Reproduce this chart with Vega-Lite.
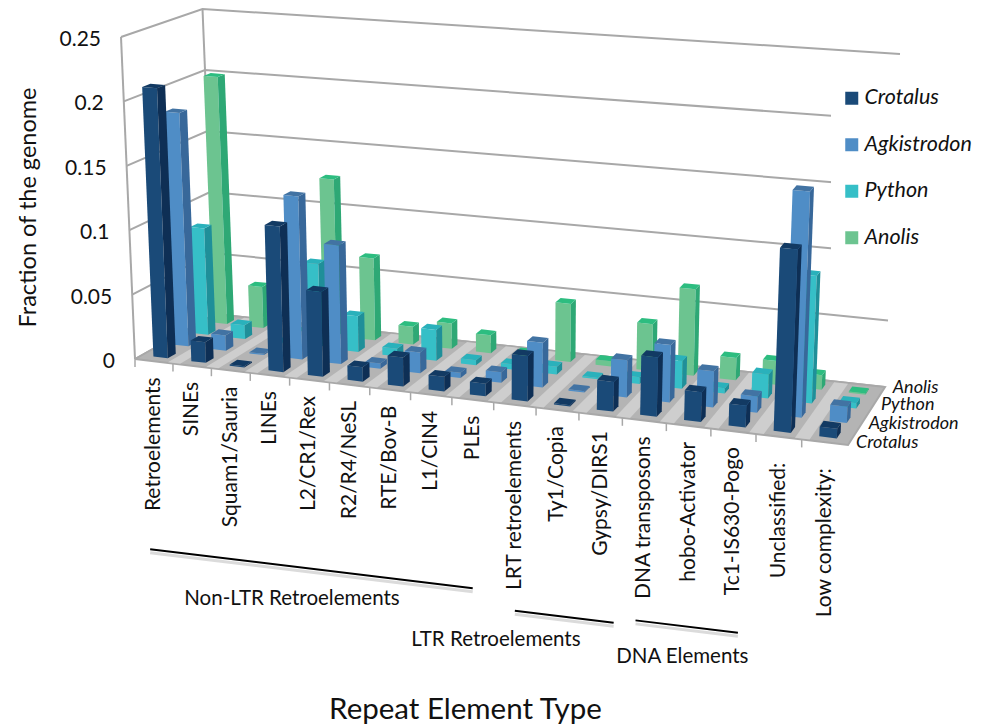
{
"$schema":"https://vega.github.io/schema/vega-lite/v6.json",
"width":994,"height":727,"padding":0,"autosize":{"type":"none"},"background":"white",
"config":{"view":{"stroke":null},"text":{"font":"Lato","color":"#111111"}},
"params":[
{"name":"cats","value":["Retroelements","SINEs","Squam1/Sauria","LINEs","L2/CR1/Rex","R2/R4/NeSL","RTE/Bov-B","L1/CIN4","PLEs","LRT retroelements","Ty1/Copia","Gypsy/DIRS1","DNA transposons","hobo-Activator","Tc1-IS630-Pogo","Unclassified:","Low complexity:"]},
{"name":"rows","value":["Crotalus","Agkistrodon","Python","Anolis"]}
],
"datasets":{
"bars":[
{"category":"Retroelements","series":"Anolis","value":0.2},{"category":"SINEs","series":"Anolis","value":0.033},{"category":"Squam1/Sauria","series":"Anolis","value":0.0002},{"category":"LINEs","series":"Anolis","value":0.125},{"category":"L2/CR1/Rex","series":"Anolis","value":0.065},{"category":"R2/R4/NeSL","series":"Anolis","value":0.014},{"category":"RTE/Bov-B","series":"Anolis","value":0.02},{"category":"L1/CIN4","series":"Anolis","value":0.014},{"category":"PLEs","series":"Anolis","value":0.003},{"category":"LRT retroelements","series":"Anolis","value":0.045},{"category":"Ty1/Copia","series":"Anolis","value":0.004},{"category":"Gypsy/DIRS1","series":"Anolis","value":0.036},{"category":"DNA transposons","series":"Anolis","value":0.066},{"category":"hobo-Activator","series":"Anolis","value":0.017},{"category":"Tc1-IS630-Pogo","series":"Anolis","value":0.018},{"category":"Unclassified:","series":"Anolis","value":0.011},{"category":"Low complexity:","series":"Anolis","value":0.001},
{"category":"Retroelements","series":"Python","value":0.085},{"category":"SINEs","series":"Python","value":0.011},{"category":"Squam1/Sauria","series":"Python","value":0.0005},{"category":"LINEs","series":"Python","value":0.066},{"category":"L2/CR1/Rex","series":"Python","value":0.028},{"category":"R2/R4/NeSL","series":"Python","value":0.006},{"category":"RTE/Bov-B","series":"Python","value":0.024},{"category":"L1/CIN4","series":"Python","value":0.004},{"category":"PLEs","series":"Python","value":0.004},{"category":"LRT retroelements","series":"Python","value":0.006},{"category":"Ty1/Copia","series":"Python","value":0.001},{"category":"Gypsy/DIRS1","series":"Python","value":0.005},{"category":"DNA transposons","series":"Python","value":0.021},{"category":"hobo-Activator","series":"Python","value":0.004},{"category":"Tc1-IS630-Pogo","series":"Python","value":0.018},{"category":"Unclassified:","series":"Python","value":0.095},{"category":"Low complexity:","series":"Python","value":0.004},
{"category":"Retroelements","series":"Agkistrodon","value":0.184},{"category":"SINEs","series":"Agkistrodon","value":0.012},{"category":"Squam1/Sauria","series":"Agkistrodon","value":0.001},{"category":"LINEs","series":"Agkistrodon","value":0.127},{"category":"L2/CR1/Rex","series":"Agkistrodon","value":0.092},{"category":"R2/R4/NeSL","series":"Agkistrodon","value":0.004},{"category":"RTE/Bov-B","series":"Agkistrodon","value":0.016},{"category":"L1/CIN4","series":"Agkistrodon","value":0.004},{"category":"PLEs","series":"Agkistrodon","value":0.008},{"category":"LRT retroelements","series":"Agkistrodon","value":0.034},{"category":"Ty1/Copia","series":"Agkistrodon","value":0.001},{"category":"Gypsy/DIRS1","series":"Agkistrodon","value":0.028},{"category":"DNA transposons","series":"Agkistrodon","value":0.043},{"category":"hobo-Activator","series":"Agkistrodon","value":0.027},{"category":"Tc1-IS630-Pogo","series":"Agkistrodon","value":0.012},{"category":"Unclassified:","series":"Agkistrodon","value":0.167},{"category":"Low complexity:","series":"Agkistrodon","value":0.012},
{"category":"Retroelements","series":"Crotalus","value":0.21},{"category":"SINEs","series":"Crotalus","value":0.016},{"category":"Squam1/Sauria","series":"Crotalus","value":0.001},{"category":"LINEs","series":"Crotalus","value":0.112},{"category":"L2/CR1/Rex","series":"Crotalus","value":0.065},{"category":"R2/R4/NeSL","series":"Crotalus","value":0.011},{"category":"RTE/Bov-B","series":"Crotalus","value":0.022},{"category":"L1/CIN4","series":"Crotalus","value":0.011},{"category":"PLEs","series":"Crotalus","value":0.0095},{"category":"LRT retroelements","series":"Crotalus","value":0.034},{"category":"Ty1/Copia","series":"Crotalus","value":0.001},{"category":"Gypsy/DIRS1","series":"Crotalus","value":0.022},{"category":"DNA transposons","series":"Crotalus","value":0.044},{"category":"hobo-Activator","series":"Crotalus","value":0.022},{"category":"Tc1-IS630-Pogo","series":"Crotalus","value":0.016},{"category":"Unclassified:","series":"Crotalus","value":0.134},{"category":"Low complexity:","series":"Crotalus","value":0.007}
],
"categories":[{"category":"Retroelements"},{"category":"SINEs"},{"category":"Squam1/Sauria"},{"category":"LINEs"},{"category":"L2/CR1/Rex"},{"category":"R2/R4/NeSL"},{"category":"RTE/Bov-B"},{"category":"L1/CIN4"},{"category":"PLEs"},{"category":"LRT retroelements"},{"category":"Ty1/Copia"},{"category":"Gypsy/DIRS1"},{"category":"DNA transposons"},{"category":"hobo-Activator"},{"category":"Tc1-IS630-Pogo"},{"category":"Unclassified:"},{"category":"Low complexity:"}],
"ticks":[{"tick":0},{"tick":0.05},{"tick":0.1},{"tick":0.15},{"tick":0.2},{"tick":0.25}],
"seriesNames":[{"series":"Crotalus"},{"series":"Agkistrodon"},{"series":"Python"},{"series":"Anolis"}],
"groups":[{"group":"Non-LTR Retroelements","from":0.4,"to":8.5},{"group":"LTR Retroelements","from":9.5,"to":11.8},{"group":"DNA Elements","from":12.3,"to":14.6}],
"floor":[{"part":"floor"}]
},
"encoding":{
"x":{"field":"sx","type":"quantitative","scale":{"domain":[0,994],"range":[0,994],"nice":false,"zero":false},"axis":{"title":"Repeat Element Type","titleFont":"Lato","titleFontSize":29.5,"titleFontWeight":"normal","titleColor":"#111111","titleX":465,"titleY":-32,"titleAlign":"center","domain":false,"ticks":false,"labels":false,"grid":false}},
"y":{"field":"sy","type":"quantitative","scale":{"domain":[0,727],"range":[0,727],"nice":false,"zero":false},"axis":{"title":"Fraction of the genome","titleFont":"Lato","titleFontSize":23.5,"titleFontWeight":"normal","titleColor":"#111111","titleX":40,"titleY":207,"titleAlign":"center","domain":false,"ticks":false,"labels":false,"grid":false}}
},
"layer":[
{"data":{"name":"ticks"},
"transform":[
{"calculate":"[{o:0,u:0,v:0},{o:1,u:0,v:4},{o:2,u:17,v:4}]","as":"vs"},{"flatten":["vs"],"as":["p"]},
{"calculate":"datum.p.u","as":"u"},{"calculate":"datum.p.v","as":"v"},{"calculate":"datum.tick","as":"h"},{"calculate":"datum.p.o","as":"o"},
{"calculate":"0.9*datum.u/(0.9*datum.u+17-datum.u)","as":"tt"},{"calculate":"1.1*datum.v/(1.1*datum.v+4-datum.v)","as":"ss"},
{"calculate":"(1-datum.ss)*((1-datum.tt)*135+datum.tt*848)+datum.ss*((1-datum.tt)*215+datum.tt*885)+datum.h*((1-datum.ss)*((1-datum.tt)*-56+datum.tt*60)+datum.ss*((1-datum.tt)*-50+datum.tt*60))","as":"sx"},
{"calculate":"(1-datum.ss)*((1-datum.tt)*359+datum.tt*445)+datum.ss*((1-datum.tt)*314+datum.tt*387)-datum.h*((1-datum.ss)*((1-datum.tt)*1288+datum.tt*1380)+datum.ss*((1-datum.tt)*1220+datum.tt*1332))","as":"sy"}
],
"mark":{"type":"line","stroke":"#a8a8a8","strokeWidth":2},
"encoding":{"detail":{"field":"tick"},"order":{"field":"o"}}},
{"data":{"values":[{"edge":"front-left","v":0},{"edge":"back-left","v":4}]},
"transform":[
{"calculate":"[{o:0,h:0},{o:1,h:0.25}]","as":"vs"},{"flatten":["vs"],"as":["p"]},
{"calculate":"0","as":"u"},{"calculate":"datum.p.h","as":"h"},{"calculate":"datum.p.o","as":"o"},
{"calculate":"0.9*datum.u/(0.9*datum.u+17-datum.u)","as":"tt"},{"calculate":"1.1*datum.v/(1.1*datum.v+4-datum.v)","as":"ss"},
{"calculate":"(1-datum.ss)*((1-datum.tt)*135+datum.tt*848)+datum.ss*((1-datum.tt)*215+datum.tt*885)+datum.h*((1-datum.ss)*((1-datum.tt)*-56+datum.tt*60)+datum.ss*((1-datum.tt)*-50+datum.tt*60))","as":"sx"},
{"calculate":"(1-datum.ss)*((1-datum.tt)*359+datum.tt*445)+datum.ss*((1-datum.tt)*314+datum.tt*387)-datum.h*((1-datum.ss)*((1-datum.tt)*1288+datum.tt*1380)+datum.ss*((1-datum.tt)*1220+datum.tt*1332))","as":"sy"}
],
"mark":{"type":"line","stroke":"#a8a8a8","strokeWidth":2},
"encoding":{"detail":{"field":"edge"},"order":{"field":"o"}}},
{"data":{"name":"floor"},
"transform":[
{"calculate":"[{o:0,u:0,v:0},{o:1,u:17,v:0},{o:2,u:17,v:4},{o:3,u:0,v:4},{o:4,u:0,v:0}]","as":"vs"},{"flatten":["vs"],"as":["p"]},
{"calculate":"datum.p.u","as":"u"},{"calculate":"datum.p.v","as":"v"},{"calculate":"0","as":"h"},{"calculate":"datum.p.o","as":"o"},
{"calculate":"0.9*datum.u/(0.9*datum.u+17-datum.u)","as":"tt"},{"calculate":"1.1*datum.v/(1.1*datum.v+4-datum.v)","as":"ss"},
{"calculate":"(1-datum.ss)*((1-datum.tt)*135+datum.tt*848)+datum.ss*((1-datum.tt)*215+datum.tt*885)","as":"sx"},
{"calculate":"(1-datum.ss)*((1-datum.tt)*359+datum.tt*445)+datum.ss*((1-datum.tt)*314+datum.tt*387)","as":"sy"}
],
"mark":{"type":"line","stroke":"#a8a8a8","strokeWidth":2,"fill":"#b4b4b4"},
"encoding":{"order":{"field":"o"}}},
{"data":{"name":"categories"},
"transform":[
{"calculate":"indexof(cats,datum.category)","as":"i"},
{"calculate":"[{o:0,a:-0.16,v:0.05},{o:1,a:0.16,v:0.05},{o:2,a:0.16,v:3.95},{o:3,a:-0.16,v:3.95}]","as":"vs"},{"flatten":["vs"],"as":["p"]},
{"calculate":"datum.i+1+datum.p.a","as":"u"},{"calculate":"datum.p.v","as":"v"},{"calculate":"datum.p.o","as":"o"},
{"filter":"datum.i<16"},
{"calculate":"0.9*datum.u/(0.9*datum.u+17-datum.u)","as":"tt"},{"calculate":"1.1*datum.v/(1.1*datum.v+4-datum.v)","as":"ss"},
{"calculate":"(1-datum.ss)*((1-datum.tt)*135+datum.tt*848)+datum.ss*((1-datum.tt)*215+datum.tt*885)","as":"sx"},
{"calculate":"(1-datum.ss)*((1-datum.tt)*359+datum.tt*445)+datum.ss*((1-datum.tt)*314+datum.tt*387)","as":"sy"}
],
"mark":{"type":"line","strokeWidth":0,"fill":"#d4d4d4","fillOpacity":0.8},
"encoding":{"detail":{"field":"category"},"order":{"field":"o"}}},
{"data":{"name":"categories"},
"transform":[
{"calculate":"indexof(cats,datum.category)","as":"u"},{"calculate":"0.9*datum.u/(0.9*datum.u+17-datum.u)","as":"tt"},
{"calculate":"(1-datum.tt)*135+datum.tt*848","as":"sx"},{"calculate":"(1-datum.tt)*359+datum.tt*445","as":"sy"},{"calculate":"datum.sy+8","as":"sy2"}
],
"mark":{"type":"rule","stroke":"#a8a8a8","strokeWidth":1.5},
"encoding":{"y2":{"field":"sy2"}}},
{"data":{"name":"bars"},
"transform":[
{"calculate":"indexof(cats,datum.category)","as":"i"},{"calculate":"indexof(rows,datum.series)","as":"k"},
{"calculate":"[{f:'front',o:0,a:0.31,b:0.31,c:0},{f:'front',o:1,a:0.69,b:0.31,c:0},{f:'front',o:2,a:0.69,b:0.31,c:1},{f:'front',o:3,a:0.31,b:0.31,c:1},{f:'side',o:0,a:0.69,b:0.31,c:0},{f:'side',o:1,a:0.69,b:0.69,c:0},{f:'side',o:2,a:0.69,b:0.69,c:1},{f:'side',o:3,a:0.69,b:0.31,c:1},{f:'top',o:0,a:0.31,b:0.31,c:1},{f:'top',o:1,a:0.69,b:0.31,c:1},{f:'top',o:2,a:0.69,b:0.69,c:1},{f:'top',o:3,a:0.31,b:0.69,c:1}]","as":"vs"},
{"flatten":["vs"],"as":["p"]},
{"calculate":"datum.i+datum.p.a","as":"u"},{"calculate":"datum.k+datum.p.b","as":"v"},{"calculate":"datum.value*datum.p.c","as":"h"},{"calculate":"datum.p.o","as":"o"},
{"calculate":"datum.p.f=='front'?datum.series:datum.series+' '+datum.p.f","as":"shade"},
{"calculate":"datum.category+'|'+datum.series+'|'+datum.p.f","as":"face"},
{"calculate":"0.9*datum.u/(0.9*datum.u+17-datum.u)","as":"tt"},{"calculate":"1.1*datum.v/(1.1*datum.v+4-datum.v)","as":"ss"},
{"calculate":"(1-datum.ss)*((1-datum.tt)*135+datum.tt*848)+datum.ss*((1-datum.tt)*215+datum.tt*885)+datum.h*((1-datum.ss)*((1-datum.tt)*-56+datum.tt*60)+datum.ss*((1-datum.tt)*-50+datum.tt*60))","as":"sx"},
{"calculate":"(1-datum.ss)*((1-datum.tt)*359+datum.tt*445)+datum.ss*((1-datum.tt)*314+datum.tt*387)-datum.h*((1-datum.ss)*((1-datum.tt)*1288+datum.tt*1380)+datum.ss*((1-datum.tt)*1220+datum.tt*1332))","as":"sy"}
],
"mark":{"type":"line","strokeWidth":0},
"encoding":{
"detail":{"field":"face"},"order":{"field":"o"},
"fill":{"field":"shade","type":"nominal",
"scale":{"domain":["Crotalus","Agkistrodon","Python","Anolis","Crotalus side","Agkistrodon side","Python side","Anolis side","Crotalus top","Agkistrodon top","Python top","Anolis top"],"range":["#1a4a78","#4f8dc6","#36bfc7","#6cc490","#0e2f55","#38689a","#1f8f99","#2ea875","#123a63","#4273a3","#2ab1bb","#2dbd80"]},
"legend":{"values":["Crotalus","Agkistrodon","Python","Anolis"],"title":null,"orient":"none","legendX":831,"legendY":77.5,"padding":10,"fillColor":"white","symbolType":"square","symbolSize":169,"symbolStrokeWidth":0,"symbolOpacity":1,"labelFont":"Lato","labelFontStyle":"italic","labelFontSize":21.5,"labelColor":"#111111","labelLimit":200,"labelOffset":2,"rowPadding":23.5}}}},
{"data":{"name":"ticks"},
"transform":[{"calculate":"135+datum.tick*-56-20","as":"sx"},{"calculate":"359-datum.tick*1288","as":"sy"}],
"mark":{"type":"text","align":"right","baseline":"middle","fontSize":21,"dy":3},
"encoding":{"text":{"field":"tick","type":"quantitative","format":"~g"}}},
{"data":{"name":"categories"},
"transform":[
{"calculate":"indexof(cats,datum.category)","as":"i"},{"calculate":"datum.i+0.5","as":"u"},{"calculate":"0.9*datum.u/(0.9*datum.u+17-datum.u)","as":"tt"},
{"calculate":"(1-datum.tt)*135+datum.tt*848","as":"sx"},{"calculate":"(1-datum.tt)*359+datum.tt*445+(datum.i>=15?26:16)","as":"sy"}
],
"mark":{"type":"text","align":"right","baseline":"middle","angle":270,"fontSize":21},
"encoding":{"text":{"field":"category"}}},
{"data":{"name":"seriesNames"},
"transform":[
{"calculate":"indexof(rows,datum.series)","as":"k"},{"calculate":"datum.k+0.5","as":"v"},{"calculate":"1.1*datum.v/(1.1*datum.v+4-datum.v)","as":"ss"},
{"calculate":"(1-datum.ss)*848+datum.ss*885+3+3*datum.k","as":"sx"},{"calculate":"(1-datum.ss)*445+datum.ss*387+6-4*datum.k","as":"sy"}
],
"mark":{"type":"text","align":"left","baseline":"middle","fontSize":18,"fontStyle":"italic"},
"encoding":{"text":{"field":"series"}}},
{"data":{"name":"groups"},
"transform":[
{"calculate":"datum.group=='Non-LTR Retroelements'?192:datum.group=='LTR Retroelements'?209.5:204.5","as":"off"},
{"calculate":"[{o:0,u:datum.from},{o:1,u:datum.to}]","as":"vs"},{"flatten":["vs"],"as":["p"]},
{"calculate":"datum.p.u","as":"u"},{"calculate":"datum.p.o","as":"o"},{"calculate":"0.9*datum.u/(0.9*datum.u+17-datum.u)","as":"tt"},
{"calculate":"(1-datum.tt)*135+datum.tt*848","as":"sx"},{"calculate":"(1-datum.tt)*359+datum.tt*445+datum.off","as":"sy"}
],
"mark":{"type":"line","stroke":"#999999","strokeWidth":3,"opacity":0.35},
"encoding":{"detail":{"field":"group"},"order":{"field":"o"}}},
{"data":{"name":"groups"},
"transform":[
{"calculate":"datum.group=='Non-LTR Retroelements'?188.5:datum.group=='LTR Retroelements'?206:201","as":"off"},
{"calculate":"[{o:0,u:datum.from},{o:1,u:datum.to}]","as":"vs"},{"flatten":["vs"],"as":["p"]},
{"calculate":"datum.p.u","as":"u"},{"calculate":"datum.p.o","as":"o"},{"calculate":"0.9*datum.u/(0.9*datum.u+17-datum.u)","as":"tt"},
{"calculate":"(1-datum.tt)*135+datum.tt*848","as":"sx"},{"calculate":"(1-datum.tt)*359+datum.tt*445+datum.off","as":"sy"}
],
"mark":{"type":"line","stroke":"#000000","strokeWidth":2},
"encoding":{"detail":{"field":"group"},"order":{"field":"o"}}},
{"data":{"name":"groups"},
"transform":[
{"calculate":"(datum.from+datum.to)/2","as":"u"},{"calculate":"0.9*datum.u/(0.9*datum.u+17-datum.u)","as":"tt"},
{"calculate":"(1-datum.tt)*135+datum.tt*848+(datum.group=='Non-LTR Retroelements'?-15.5:datum.group=='LTR Retroelements'?-68:-4)","as":"sx"},
{"calculate":"(1-datum.tt)*359+datum.tt*445+(datum.group=='Non-LTR Retroelements'?219:datum.group=='LTR Retroelements'?229:231.5)","as":"sy"}
],
"mark":{"type":"text","align":"center","baseline":"middle","fontSize":20.5},
"encoding":{"text":{"field":"group"}}}
]
}
